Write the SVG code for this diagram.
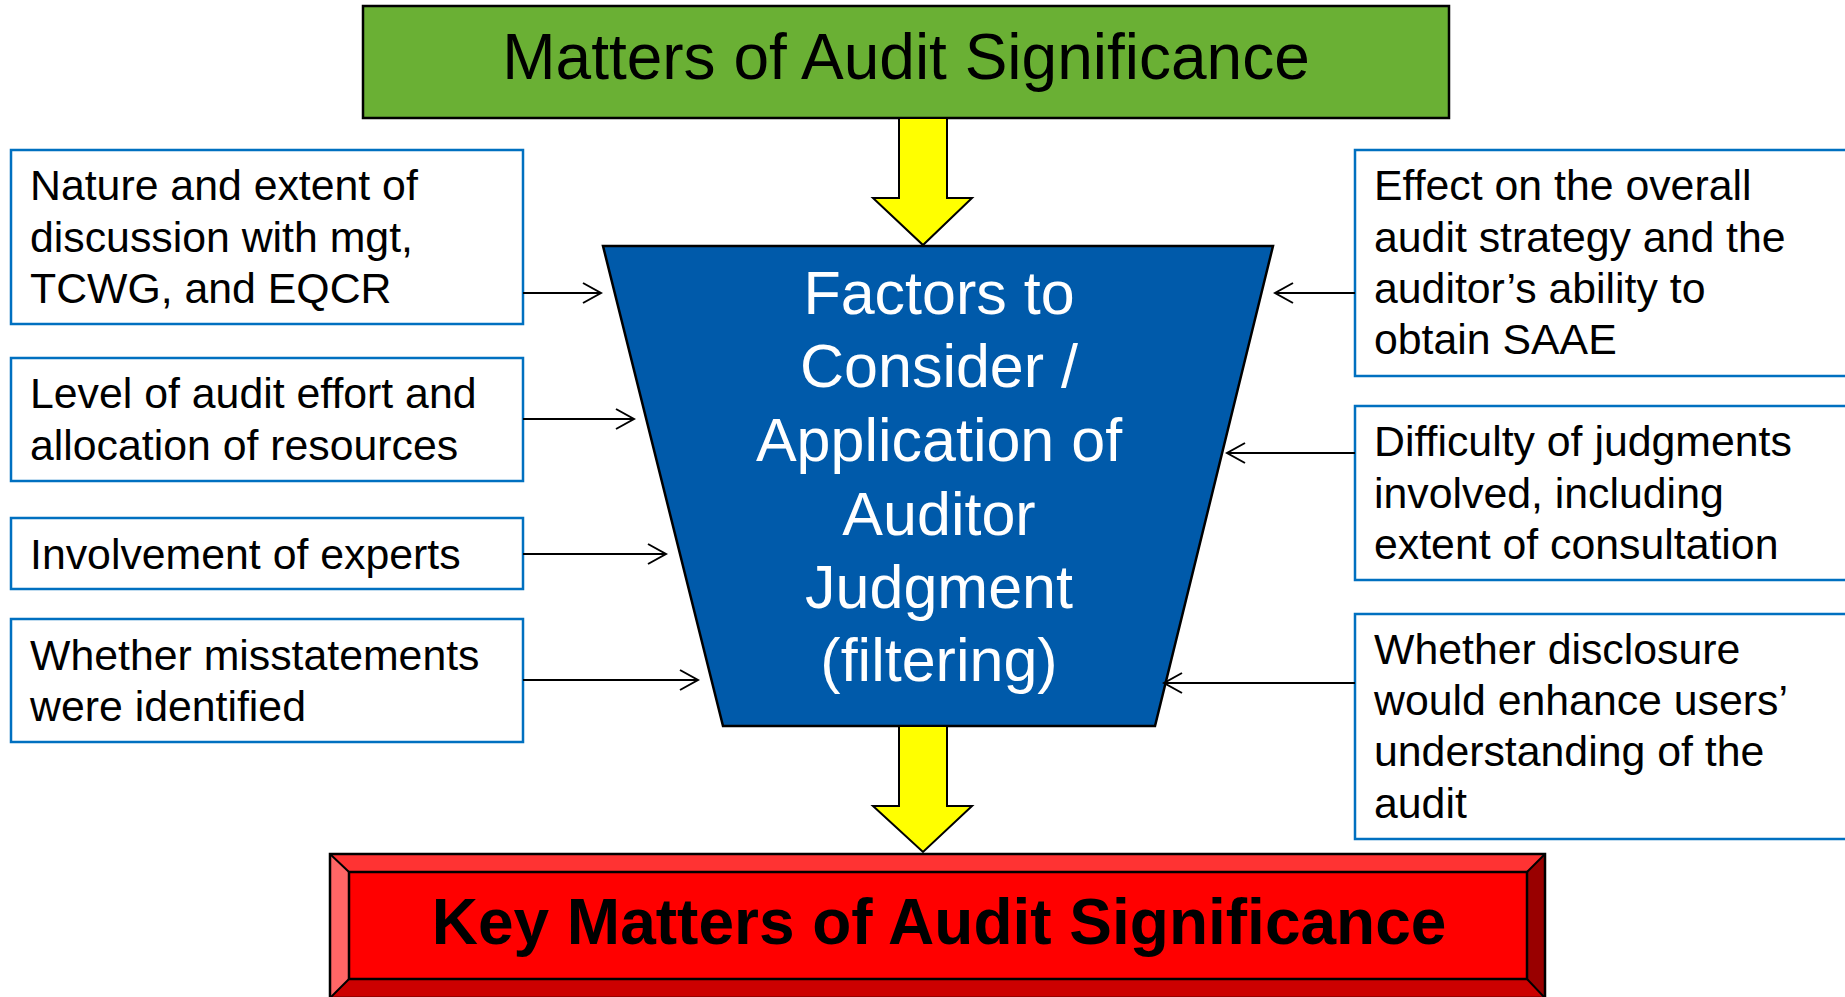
<svg xmlns="http://www.w3.org/2000/svg" width="1845" height="997" viewBox="0 0 1845 997">
<defs>
<style>
.box{fill:#fff;stroke:#0070C0;stroke-width:2.5}
.t{font-family:"Liberation Sans",Arial,sans-serif;font-size:42.8px;fill:#000}
.wt{font-family:"Liberation Sans",Arial,sans-serif;font-size:61px;fill:#fff;text-anchor:middle}
.yel{fill:#FFFF00;stroke:#000;stroke-width:2}
.conn{stroke:#000;stroke-width:2;fill:none;marker-end:url(#ah)}
</style>
<marker id="ah" viewBox="0 0 22 22" refX="20" refY="11" markerWidth="22" markerHeight="22" markerUnits="userSpaceOnUse" orient="auto">
<path d="M2,1 L20,11 L2,21" fill="none" stroke="#000" stroke-width="2"/>
</marker>
</defs>
<rect width="1845" height="997" fill="#fff"/>

<g id="top">
<rect x="363" y="6" width="1086" height="112" fill="#6AB034" stroke="#000" stroke-width="2.5"/>
<text x="906" y="79" font-family="Liberation Sans,Arial,sans-serif" font-size="64" text-anchor="middle">Matters of Audit Significance</text>
</g>

<g id="arrow-down-1"><path class="yel" d="M899,118 L947,118 L947,198 L972,198 L923,245 L873,198 L899,198 Z"/></g>

<g id="filter">
<polygon points="603,246 1273,246 1155,726 723,726" fill="#005AAA" stroke="#000" stroke-width="2.5"/>
<text class="wt" x="939" y="314">Factors to</text>
<text class="wt" x="939" y="387">Consider /</text>
<text class="wt" x="939" y="461">Application of</text>
<text class="wt" x="939" y="535">Auditor</text>
<text class="wt" x="939" y="608">Judgment</text>
<text class="wt" x="939" y="681">(filtering)</text>
</g>

<g id="arrow-down-2"><path class="yel" d="M899,726 L947,726 L947,806 L972,806 L923,852 L873,806 L899,806 Z"/></g>

<g id="bottom">
<polygon points="330,854 1545,854 1527,872 349,872" fill="#FF3333"/>
<polygon points="330,854 349,872 349,979 330,998" fill="#FF6666"/>
<polygon points="1545,854 1545,998 1527,979 1527,872" fill="#990000"/>
<polygon points="330,998 349,979 1527,979 1545,998" fill="#CC0000"/>
<rect x="349" y="872" width="1178" height="107" fill="#FF0000" stroke="#000" stroke-width="2.5"/>
<rect x="330" y="854" width="1215" height="144" fill="none" stroke="#000" stroke-width="2.5"/>
<path d="M330,854 L349,872 M1545,854 L1527,872 M330,998 L349,979 M1545,998 L1527,979" stroke="#000" stroke-width="2"/>
<text x="939" y="944" font-family="Liberation Sans,Arial,sans-serif" font-size="64" font-weight="bold" text-anchor="middle">Key Matters of Audit Significance</text>
</g>

<g id="l1"><rect class="box" x="11" y="150" width="512" height="174"/>
<text class="t" x="30" y="200">Nature and extent of</text>
<text class="t" x="30" y="252">discussion with mgt,</text>
<text class="t" x="30" y="303">TCWG, and EQCR</text></g>

<g id="l2"><rect class="box" x="11" y="358" width="512" height="123"/>
<text class="t" x="30" y="408">Level of audit effort and</text>
<text class="t" x="30" y="460">allocation of resources</text></g>

<g id="l3"><rect class="box" x="11" y="518" width="512" height="71"/>
<text class="t" x="30" y="569">Involvement of experts</text></g>

<g id="l4"><rect class="box" x="11" y="619" width="512" height="123"/>
<text class="t" x="30" y="670">Whether misstatements</text>
<text class="t" x="30" y="721">were identified</text></g>

<g id="r1"><rect class="box" x="1355" y="150" width="500" height="226"/>
<text class="t" x="1374" y="200">Effect on the overall</text>
<text class="t" x="1374" y="252">audit strategy and the</text>
<text class="t" x="1374" y="303">auditor’s ability to</text>
<text class="t" x="1374" y="354">obtain SAAE</text></g>

<g id="r2"><rect class="box" x="1355" y="406" width="500" height="174"/>
<text class="t" x="1374" y="456">Difficulty of judgments</text>
<text class="t" x="1374" y="508">involved, including</text>
<text class="t" x="1374" y="559">extent of consultation</text></g>

<g id="r3"><rect class="box" x="1355" y="614" width="500" height="225"/>
<text class="t" x="1374" y="664">Whether disclosure</text>
<text class="t" x="1374" y="715">would enhance users’</text>
<text class="t" x="1374" y="766">understanding of the</text>
<text class="t" x="1374" y="818">audit</text></g>

<g id="connectors">
<path class="conn" d="M523,293 L601,293"/>
<path class="conn" d="M523,419 L634,419"/>
<path class="conn" d="M523,554 L666,554"/>
<path class="conn" d="M523,680 L698,680"/>
<path class="conn" d="M1355,293 L1275,293"/>
<path class="conn" d="M1355,453 L1227,453"/>
<path class="conn" d="M1355,683 L1164,683"/>
</g>
</svg>
